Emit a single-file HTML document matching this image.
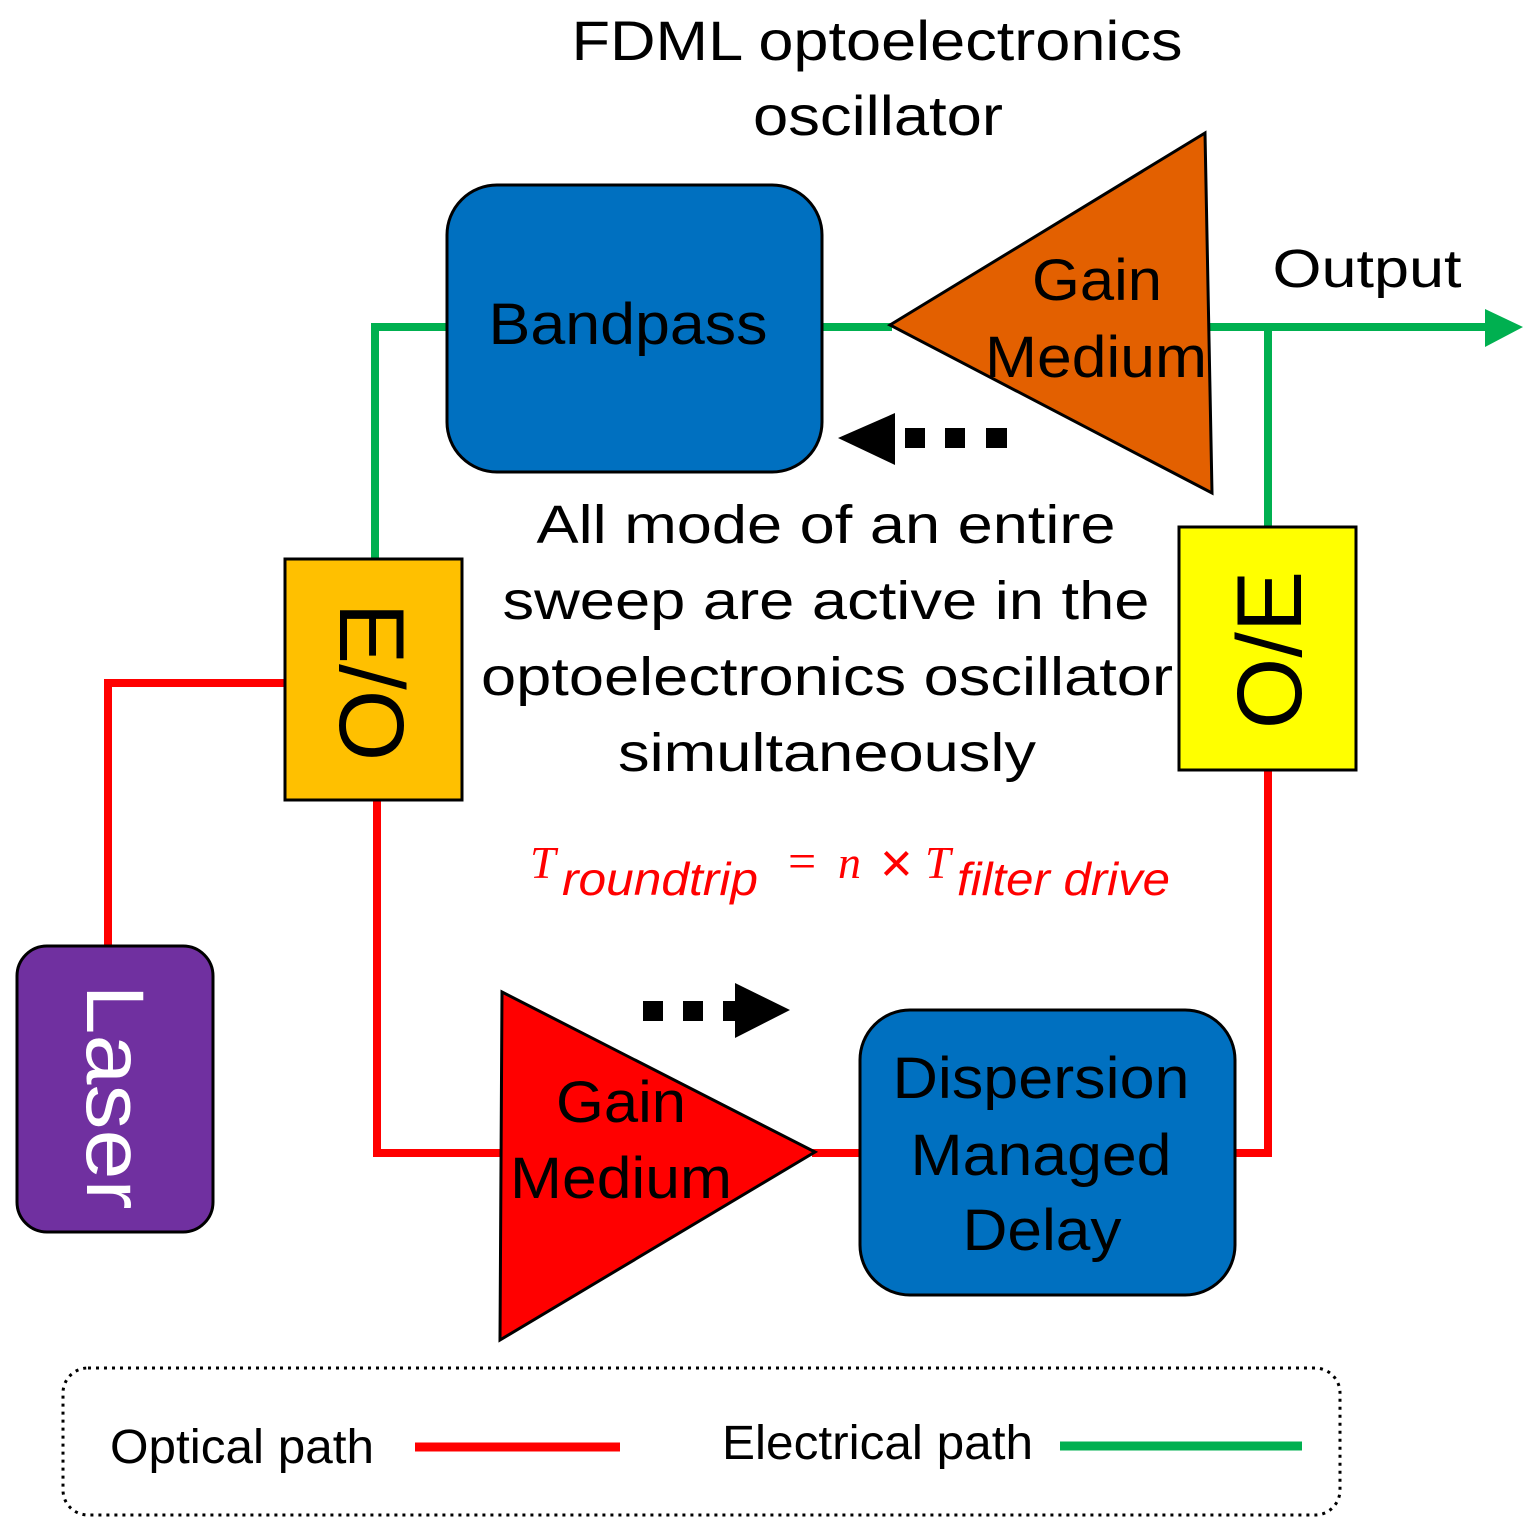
<!DOCTYPE html>
<html><head><meta charset="utf-8"><style>html,body{margin:0;padding:0;background:#fff}svg{display:block}</style></head>
<body>
<svg width="1532" height="1535" viewBox="0 0 1532 1535" xmlns="http://www.w3.org/2000/svg" font-family="Liberation Sans, sans-serif">
<rect width="1532" height="1535" fill="#fff"/>
<text x="877" y="60" font-size="56" text-anchor="middle" textLength="611" lengthAdjust="spacingAndGlyphs">FDML optoelectronics</text>
<text x="878" y="135" font-size="56" text-anchor="middle" textLength="250" lengthAdjust="spacingAndGlyphs">oscillator</text>
<g stroke="#00B050" stroke-width="8" fill="none">
<polyline points="375,558 375,327 447,327"/>
<line x1="822" y1="327" x2="892" y2="327"/>
<line x1="1205" y1="327" x2="1490" y2="327"/>
<line x1="1268" y1="327" x2="1268" y2="527"/>
</g>
<polygon points="1485,309 1523,327 1485,347" fill="#00B050"/>
<g stroke="#FF0000" stroke-width="8" fill="none">
<polyline points="290,683 108,683 108,946"/>
<polyline points="377,800 377,1153 502,1153"/>
<line x1="812" y1="1153" x2="862" y2="1153"/>
<polyline points="1235,1153 1268,1153 1268,770"/>
</g>
<rect x="447" y="185" width="375" height="287" rx="50" fill="#0070C0" stroke="#000" stroke-width="3"/>
<text x="628" y="344" font-size="58" text-anchor="middle" textLength="279" lengthAdjust="spacingAndGlyphs">Bandpass</text>
<polygon points="890,325 1205,133 1212,493" fill="#E36000" stroke="#000" stroke-width="3"/>
<text x="1097" y="300" font-size="58" text-anchor="middle" textLength="130" lengthAdjust="spacingAndGlyphs">Gain</text>
<text x="1096" y="377" font-size="58" text-anchor="middle" textLength="222" lengthAdjust="spacingAndGlyphs">Medium</text>
<text x="1367" y="287" font-size="54" text-anchor="middle" textLength="189" lengthAdjust="spacingAndGlyphs">Output</text>
<polygon points="838,438 895,413 895,465"/>
<rect x="905" y="428" width="20" height="20"/><rect x="945" y="428" width="20" height="20"/><rect x="986" y="428" width="21" height="20"/>
<g font-size="54" text-anchor="middle" lengthAdjust="spacingAndGlyphs">
<text x="826" y="543" textLength="579" lengthAdjust="spacingAndGlyphs">All mode of an entire</text>
<text x="826" y="619" textLength="647" lengthAdjust="spacingAndGlyphs">sweep are active in the</text>
<text x="827" y="695" textLength="692" lengthAdjust="spacingAndGlyphs">optoelectronics oscillator</text>
<text x="827" y="771" textLength="418" lengthAdjust="spacingAndGlyphs">simultaneously</text>
</g>
<rect x="285" y="559" width="177" height="241" fill="#FFC000" stroke="#000" stroke-width="3"/>
<text transform="translate(340,682) rotate(90)" font-size="92" text-anchor="middle">E/O</text>
<rect x="1179" y="527" width="177" height="243" fill="#FFFF00" stroke="#000" stroke-width="3"/>
<text transform="translate(1301,650) rotate(-90)" font-size="92" text-anchor="middle">O/E</text>
<g fill="#FF0000">
<text x="530" y="878" font-size="46" font-family="Liberation Serif, serif" font-style="italic">T</text>
<text x="562" y="895" font-size="46" font-style="italic" textLength="196" lengthAdjust="spacingAndGlyphs">roundtrip</text>
<text x="788" y="878" font-size="50" font-family="Liberation Serif, serif">=</text>
<text x="838" y="878" font-size="46" font-family="Liberation Serif, serif" font-style="italic">n</text>
<text x="880" y="882" font-size="56" font-family="Liberation Sans, sans-serif">×</text>
<text x="925" y="878" font-size="46" font-family="Liberation Serif, serif" font-style="italic">T</text>
<text x="957" y="895" font-size="46" font-style="italic" textLength="213" lengthAdjust="spacingAndGlyphs">filter drive</text>
</g>
<rect x="643" y="1001" width="20" height="20"/><rect x="683" y="1001" width="20" height="20"/><rect x="723" y="1001" width="15" height="20"/>
<polygon points="735,983 790,1010 735,1038"/>
<polygon points="502,992 815,1152 500,1340" fill="#FF0000" stroke="#000" stroke-width="3"/>
<text x="621" y="1122" font-size="58" text-anchor="middle" textLength="130" lengthAdjust="spacingAndGlyphs">Gain</text>
<text x="621" y="1198" font-size="58" text-anchor="middle" textLength="222" lengthAdjust="spacingAndGlyphs">Medium</text>
<rect x="860" y="1010" width="375" height="285" rx="50" fill="#0070C0" stroke="#000" stroke-width="3"/>
<g font-size="58" text-anchor="middle">
<text x="1041" y="1098" textLength="297" lengthAdjust="spacingAndGlyphs">Dispersion</text>
<text x="1041" y="1175" textLength="261" lengthAdjust="spacingAndGlyphs">Managed</text>
<text x="1042" y="1250" textLength="159" lengthAdjust="spacingAndGlyphs">Delay</text>
</g>
<rect x="17" y="946" width="196" height="286" rx="30" fill="#7030A0" stroke="#000" stroke-width="3"/>
<text transform="translate(87,1097) rotate(90)" font-size="82" fill="#fff" text-anchor="middle" textLength="225" lengthAdjust="spacingAndGlyphs">Laser</text>
<rect x="63" y="1368" width="1277" height="147" rx="25" fill="none" stroke="#000" stroke-width="3" stroke-dasharray="3,5"/>
<text x="110" y="1463" font-size="48" textLength="264" lengthAdjust="spacingAndGlyphs">Optical path</text>
<line x1="415" y1="1447" x2="620" y2="1447" stroke="#FF0000" stroke-width="9"/>
<text x="722" y="1459" font-size="48" textLength="311" lengthAdjust="spacingAndGlyphs">Electrical path</text>
<line x1="1060" y1="1446" x2="1302" y2="1446" stroke="#00B050" stroke-width="9"/>
</svg>
</body></html>
